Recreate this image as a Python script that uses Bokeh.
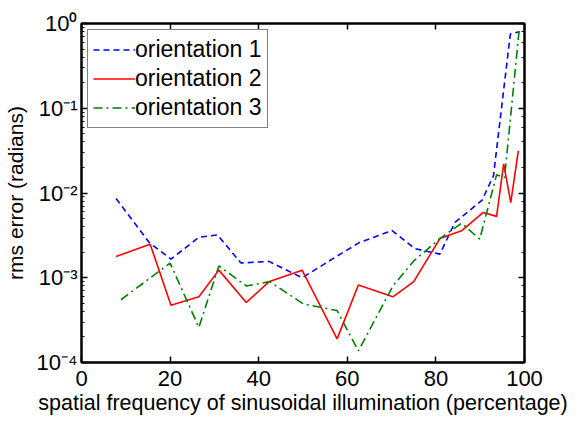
from bokeh.plotting import figure
from bokeh.models import LinearAxis, LogAxis, FixedTicker, Range1d
from bokeh.embed import file_html
from bokeh.resources import INLINE

# ---- data ----
x1 = [7.8, 15.3, 20.2, 26.5, 30.7, 36.0, 42.3, 49.8, 57.7, 62.7, 70.1, 75.3, 80.9, 84.3, 90.4, 93.0, 96.8, 98.8]
y1 = [0.0086, 0.0026, 0.00166, 0.0030, 0.0032, 0.00149, 0.00156, 0.00100, 0.0018, 0.0026, 0.0036, 0.0022,
      0.0019, 0.0045, 0.0082, 0.016, 0.75, 0.80]

x2 = [7.8, 15.5, 20.2, 26.5, 31.0, 37.2, 42.3, 49.8, 57.7, 62.5, 70.3, 75.0, 80.9, 85.8, 90.7, 93.7, 95.3, 96.9, 98.6]
y2 = [0.00178, 0.00249, 0.000475, 0.000596, 0.00123, 0.00051, 0.000895, 0.00123, 0.00019, 0.00082, 0.000596,
      0.0009, 0.0029, 0.00358, 0.0059, 0.0053, 0.022, 0.0077, 0.0315]

x3 = [8.9, 20.0, 26.5, 31.0, 37.2, 42.5, 50.1, 57.7, 62.5, 70.3, 75.0, 80.9, 85.8, 89.9, 93.7, 95.5, 98.8]
y3 = [0.00055, 0.00149, 0.00026, 0.00138, 0.0008, 0.0009, 0.00049, 0.00041, 0.000137, 0.0008, 0.00158,
      0.0029, 0.0044, 0.00286, 0.0164, 0.0152, 0.84]

series_names = ["orientation 1", "orientation 2", "orientation 3"]
x_ticks = [0, 20, 40, 60, 80, 100]
y_ticks = [1, 0.1, 0.01, 0.001, 0.0001]
y_tick_labels = ["10\u2070", "10\u207b\u00b9", "10\u207b\u00b2", "10\u207b\u00b3", "10\u207b\u2074"]

FONT = "Liberation Sans"

p = figure(width=583, height=423, y_axis_type="log",
           x_range=Range1d(0, 100), y_range=Range1d(1e-4, 1),
           output_backend="svg", toolbar_location=None,
           min_border_left=80, min_border_right=59, min_border_top=23, min_border_bottom=61)

p.xgrid.visible = False
p.ygrid.visible = False
p.outline_line_color = "black"
p.outline_line_width = 2
p.background_fill_color = "white"
p.border_fill_color = "white"

p.line(x1, y1, line_color="#0000ff", line_width=1.6, line_dash="6 4", legend_label=series_names[0])
p.line(x2, y2, line_color="#ff0000", line_width=1.6, legend_label=series_names[1])
p.line(x3, y3, line_color="#008000", line_width=1.6, line_dash="9 4 2 4", legend_label=series_names[2])

def style_axis(ax):
    ax.axis_line_color = "black"
    ax.axis_line_width = 2
    ax.major_tick_in = 6
    ax.major_tick_out = 0
    ax.minor_tick_in = 3
    ax.minor_tick_out = 0
    ax.major_tick_line_color = "black"
    ax.major_tick_line_width = 1.5
    ax.minor_tick_line_color = "black"
    ax.major_label_text_font = FONT
    ax.major_label_text_font_size = "22px"
    ax.major_label_text_color = "black"
    ax.axis_label_text_font = FONT
    ax.axis_label_text_font_size = "21px"
    ax.axis_label_text_font_style = "normal"
    ax.axis_label_text_color = "black"

xa = p.xaxis[0]
style_axis(xa)
xa.ticker = FixedTicker(ticks=x_ticks)
xa.minor_tick_line_color = None
xa.axis_label = "spatial frequency of sinusoidal illumination (percentage)"
xa.axis_label_text_font_size = "21.5px"
xa.major_label_standoff = 8
xa.axis_label_standoff = 2

ya = p.yaxis[0]
style_axis(ya)
ya.major_label_overrides = dict(zip(y_ticks, y_tick_labels))
ya.axis_label = "rms error (radians)"
ya.major_label_standoff = 4
ya.axis_label_standoff = 7

top = LinearAxis(ticker=FixedTicker(ticks=x_ticks))
style_axis(top)
top.minor_tick_line_color = None
top.major_label_overrides = {t: "" for t in x_ticks}
top.major_label_standoff = 0
p.add_layout(top, "above")

right = LogAxis()
style_axis(right)
right.major_label_overrides = {t: "" for t in y_ticks}
right.major_label_standoff = 0
p.add_layout(right, "right")

lg = p.legend[0]
lg.location = "top_left"
lg.margin = 6
lg.padding = 5
lg.spacing = 0
lg.label_height = 29
lg.glyph_height = 29
lg.glyph_width = 42
lg.label_standoff = 0
lg.label_text_font = FONT
lg.label_text_font_size = "23px"
lg.label_text_color = "black"
lg.border_line_color = "black"
lg.border_line_width = 1.5
lg.background_fill_color = "white"
lg.background_fill_alpha = 1.0

open("out.html", "w").write(file_html(p, INLINE))
